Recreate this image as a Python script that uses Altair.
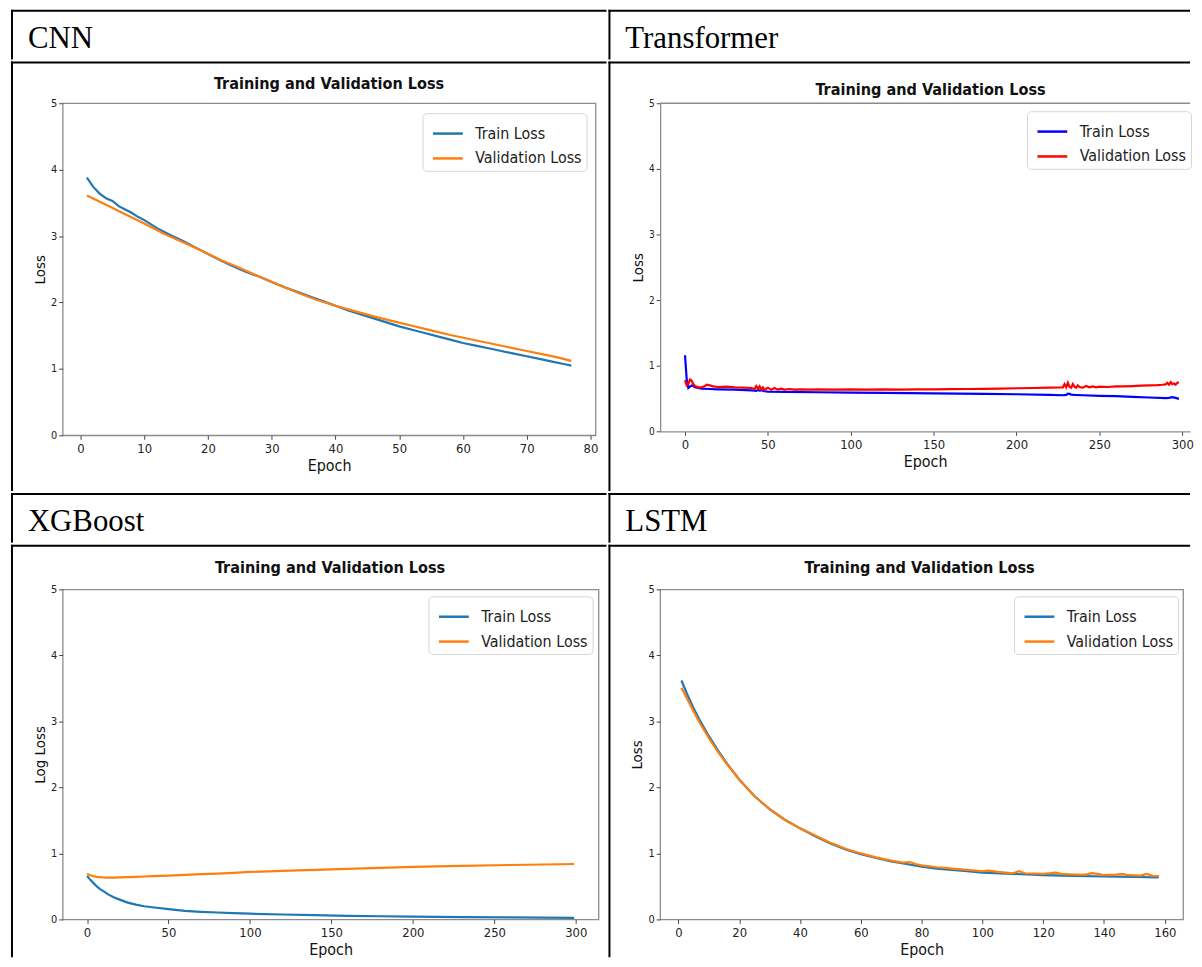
import altair as alt
import pandas as pd

HEADERS = ["CNN", "Transformer", "XGBoost", "LSTM"]
SERIES = ["Train Loss", "Validation Loss"]
TITLE = "Training and Validation Loss"

# ---------------- CNN ----------------
cnn_train_ep = [1, 2, 3, 4, 5, 6, 7, 8, 9, 10, 12, 14, 16, 18, 20, 22, 24, 26, 28, 30,
                32, 34, 36, 38, 40, 42, 44, 46, 48, 50, 52, 54, 56, 58, 60, 62, 64, 66, 68, 70,
                72, 74, 76, 77]
cnn_train = [3.88, 3.74, 3.64, 3.57, 3.53, 3.45, 3.40, 3.35, 3.29, 3.24, 3.12, 3.02, 2.93, 2.83, 2.73,
             2.63, 2.54, 2.46, 2.39, 2.31, 2.23, 2.16, 2.09, 2.02, 1.95, 1.88, 1.82, 1.76, 1.70, 1.64,
             1.59, 1.54, 1.49, 1.44, 1.39, 1.35, 1.31, 1.27, 1.23, 1.19, 1.15, 1.11, 1.07, 1.05]
cnn_val_ep = [1, 4, 7, 10, 13, 16, 19, 22, 25, 28, 31, 34, 37, 40, 43, 46, 49, 52, 55, 58,
              61, 64, 67, 70, 73, 75, 77]
cnn_val = [3.61, 3.47, 3.33, 3.19, 3.04, 2.91, 2.78, 2.64, 2.52, 2.39, 2.27, 2.15, 2.04, 1.95, 1.87,
           1.79, 1.72, 1.65, 1.58, 1.51, 1.45, 1.39, 1.33, 1.27, 1.21, 1.17, 1.12]
cnn_xticks = [0, 10, 20, 30, 40, 50, 60, 70, 80]

# ---------------- Transformer ----------------
tr_train_ep = [0, 1, 2, 3, 4, 5, 6, 8, 10, 15, 20, 30, 40, 42, 43, 44, 45, 46, 48, 50,
               60, 80, 100, 120, 150, 180, 200, 220, 228, 230, 231, 232, 233, 235, 240,
               250, 260, 270, 280, 290, 292, 294, 296, 298]
tr_train = [1.16, 0.80, 0.66, 0.68, 0.70, 0.69, 0.67, 0.66, 0.65, 0.645, 0.64, 0.635, 0.625, 0.62,
            0.615, 0.63, 0.62, 0.625, 0.61, 0.605, 0.60, 0.595, 0.59, 0.585, 0.578, 0.57, 0.565,
            0.555, 0.55, 0.555, 0.575, 0.57, 0.56, 0.555, 0.55, 0.54, 0.535, 0.525, 0.515, 0.505,
            0.51, 0.52, 0.51, 0.495]
tr_val_ep = [0, 1, 2, 3, 4, 5, 6, 8, 10, 12, 13, 15, 17, 20, 25, 30, 35, 40, 42, 43,
             44, 45, 46, 47, 48, 50, 52, 54, 56, 58, 60, 63, 66, 70, 75, 80, 90, 100, 110, 120,
             130, 140, 150, 160, 170, 180, 190, 200, 210, 220, 226, 228, 229, 230, 231, 232, 233,
             234, 235, 236, 237, 238, 240, 242, 244, 246, 248, 250, 255, 260, 265, 270, 275, 280,
             285, 288, 290, 291, 292, 293, 294, 295, 296, 297, 298]
tr_val = [0.78, 0.70, 0.72, 0.79, 0.77, 0.72, 0.69, 0.67, 0.67, 0.69, 0.71, 0.70, 0.685, 0.675,
          0.68, 0.67, 0.665, 0.66, 0.645, 0.69, 0.65, 0.685, 0.64, 0.67, 0.63, 0.665, 0.635, 0.66,
          0.635, 0.65, 0.635, 0.645, 0.635, 0.64, 0.635, 0.64, 0.635, 0.638, 0.635, 0.64, 0.636,
          0.64, 0.64, 0.642, 0.645, 0.648, 0.652, 0.656, 0.66, 0.665, 0.668, 0.67, 0.72, 0.67,
          0.74, 0.68, 0.665, 0.72, 0.68, 0.665, 0.70, 0.675, 0.665, 0.69, 0.67, 0.685, 0.67, 0.68,
          0.675, 0.685, 0.685, 0.69, 0.695, 0.70, 0.705, 0.71, 0.715, 0.74, 0.71, 0.75, 0.72,
          0.73, 0.71, 0.74, 0.745]
tr_xticks = [0, 50, 100, 150, 200, 250, 300]

# ---------------- XGBoost ----------------
xg_ep = [0, 2, 4, 6, 8, 10, 13, 16, 20, 25, 30, 35, 40, 50, 60, 70, 80, 90, 100, 120,
         140, 160, 180, 200, 230, 260, 299]
xg_train = [0.66, 0.60, 0.55, 0.50, 0.46, 0.43, 0.38, 0.34, 0.30, 0.255, 0.225, 0.20, 0.185,
            0.155, 0.13, 0.115, 0.105, 0.095, 0.087, 0.075, 0.064, 0.055, 0.048, 0.042, 0.035,
            0.03, 0.025]
xg_val = [0.69, 0.67, 0.655, 0.645, 0.64, 0.635, 0.632, 0.632, 0.636, 0.64, 0.645, 0.65, 0.655,
          0.665, 0.675, 0.685, 0.695, 0.705, 0.72, 0.735, 0.75, 0.765, 0.78, 0.795, 0.81, 0.825,
          0.84]
xg_xticks = [0, 50, 100, 150, 200, 250, 300]

# ---------------- LSTM ----------------
ls_train_ep = [1, 3, 5, 7, 10, 13, 16, 20, 25, 30, 35, 40, 45, 50, 55, 60, 65, 70, 75, 80,
               85, 90, 95, 100, 110, 120, 130, 140, 150, 158]
ls_train = [3.62, 3.40, 3.20, 3.02, 2.78, 2.56, 2.36, 2.12, 1.87, 1.67, 1.51, 1.38, 1.26, 1.15,
            1.06, 0.99, 0.93, 0.88, 0.84, 0.80, 0.77, 0.75, 0.73, 0.71, 0.69, 0.67, 0.66, 0.65,
            0.645, 0.635]
ls_val_ep = [1, 3, 5, 7, 10, 13, 16, 20, 25, 30, 35, 40, 45, 50, 55, 60, 65, 70, 74, 76,
             78, 80, 85, 88, 90, 95, 100, 102, 105, 110, 112, 114, 120, 122, 124, 126, 130, 134,
             136, 138, 140, 144, 146, 148, 152, 154, 156, 158]
ls_val = [3.51, 3.33, 3.15, 2.98, 2.75, 2.54, 2.35, 2.12, 1.87, 1.67, 1.51, 1.38, 1.27, 1.16,
          1.07, 1.00, 0.94, 0.89, 0.86, 0.87, 0.84, 0.82, 0.79, 0.78, 0.77, 0.75, 0.73, 0.74,
          0.72, 0.70, 0.73, 0.70, 0.69, 0.70, 0.71, 0.69, 0.68, 0.68, 0.70, 0.69, 0.67, 0.68,
          0.69, 0.67, 0.665, 0.69, 0.66, 0.655]
ls_xticks = [0, 20, 40, 60, 80, 100, 120, 140, 160]

Y_TICKS = [0, 1, 2, 3, 4, 5]

SANS = "DejaVu Sans Condensed, DejaVu Sans"
SERIF = "Liberation Serif, Times New Roman, serif"
MPL_COLORS = ["#1f77b4", "#ff7f0e"]
TR_COLORS = ["#0000ff", "#ff0000"]
FRAME = "#8c8c8c"


def long_df(ep_t, v_t, ep_v, v_v):
    return pd.DataFrame({
        "Epoch": list(ep_t) + list(ep_v),
        "Loss": list(v_t) + list(v_v),
        "Series": [SERIES[0]] * len(ep_t) + [SERIES[1]] * len(ep_v),
    })


ONE = pd.DataFrame({"k": [0]})


def cell_decor(cell, origin):
    """Invisible cell box (defines the cell extent) plus its top and left table lines."""
    cx0, cy0, cx1, cy1 = cell
    ox, oy = origin
    x0, x1, y0, y1 = cx0 - ox, cx1 - ox, cy0 - oy, cy1 - oy
    box = alt.Chart(ONE).mark_rect(fill="white", opacity=0).encode(
        x=alt.value(x0), x2=alt.value(x1), y=alt.value(y0), y2=alt.value(y1))
    top = alt.Chart(ONE).mark_rect(fill="black").encode(
        x=alt.value(x0), x2=alt.value(x1), y=alt.value(y0), y2=alt.value(y0 + 2))
    left = alt.Chart(ONE).mark_rect(fill="black").encode(
        x=alt.value(x0), x2=alt.value(x0 + 2), y=alt.value(y0), y2=alt.value(y1))
    return [box, top, left]


def chart_cell(df, colors, xdom, xticks, ytitle, cell, plot, title_pos, legend_pos,
               ylab_size=11, open_right=False):
    px0, py0, px1, py1 = plot
    W, H = px1 - px0, py1 - py0
    layers = cell_decor(cell, (px0, py0))

    title = alt.Chart(pd.DataFrame({"t": [TITLE]})).mark_text(
        font=SANS, fontSize=16.2, fontWeight="bold", color="#111",
        align="center", baseline="alphabetic").encode(
        x=alt.value(title_pos[0] - px0), y=alt.value(title_pos[1] - py0), text="t:N")
    layers.append(title)

    if open_right:
        layers.append(alt.Chart(ONE).mark_rule(color=FRAME, strokeWidth=1.3).encode(
            x=alt.value(0), x2=alt.value(W), y=alt.value(0)))

    lines = alt.Chart(df).mark_line(strokeWidth=2.2).encode(
        x=alt.X("Epoch:Q",
                scale=alt.Scale(domain=xdom, nice=False, zero=False),
                axis=alt.Axis(values=xticks, title="Epoch", grid=False,
                              domain=open_right, domainColor=FRAME, domainWidth=1.3,
                              tickSize=4, tickColor="#444", tickWidth=1,
                              labelFont=SANS, labelFontSize=13, labelColor="#222",
                              labelPadding=3, labelFlush=False, labelOverlap=False,
                              titleFont=SANS, titleFontSize=16, titleFontWeight="normal",
                              titleColor="#111", titlePadding=2)),
        y=alt.Y("Loss:Q",
                scale=alt.Scale(domain=[0, 5], nice=False, zero=False),
                axis=alt.Axis(values=Y_TICKS, format="d", title=ytitle, grid=False,
                              domain=open_right, domainColor=FRAME, domainWidth=1.3,
                              tickSize=4, tickColor="#444", tickWidth=1,
                              labelFont=SANS, labelFontSize=ylab_size, labelColor="#222",
                              labelPadding=2, labelFlush=False,
                              titleFont=SANS, titleFontSize=15, titleFontWeight="normal",
                              titleColor="#111", titlePadding=3)),
        color=alt.Color("Series:N",
                        scale=alt.Scale(domain=SERIES, range=colors),
                        legend=alt.Legend(title=None, orient="none",
                                          legendX=legend_pos[0] - px0,
                                          legendY=legend_pos[1] - py0,
                                          symbolType="stroke", symbolSize=900,
                                          symbolStrokeWidth=2.5, symbolOffset=5,
                                          labelFont=SANS, labelFontSize=16,
                                          labelColor="#222", labelOffset=11,
                                          rowPadding=0, padding=4,
                                          strokeColor="#d6d6d6", fillColor="white",
                                          cornerRadius=4, labelLimit=300)),
    )
    layers.append(lines)

    frame = alt.ViewBackground(stroke="transparent") if open_right else \
        alt.ViewBackground(stroke=FRAME, strokeWidth=1.3)
    return alt.layer(*layers).properties(width=W, height=H, view=frame)


def header_cell(text, cell, origin_x):
    cx0, cy0, cx1, cy1 = cell
    layers = cell_decor(cell, (origin_x, cy0))
    txt = alt.Chart(pd.DataFrame({"label": [text]})).mark_text(
        font=SERIF, fontSize=31, align="left", baseline="alphabetic", color="black").encode(
        x=alt.value(cx0 + 17 - origin_x), y=alt.value(38), text="label:N")
    layers.append(txt)
    return alt.layer(*layers).properties(
        width=10, height=10, view=alt.ViewBackground(stroke="transparent"))


# page geometry (pixels): table cells and plot frames
C0, C1 = 62, 661          # plot-left of each column
RIGHT = 1194              # right edge of the table (kept inside the window)
cnn = chart_cell(long_df(cnn_train_ep, cnn_train, cnn_val_ep, cnn_val), MPL_COLORS,
                 [-2.8, 80.8], cnn_xticks, "Loss",
                 (10, 60, 609, 492), (C0, 102, 598, 436), (330, 88), (424, 112))
trf = chart_cell(long_df(tr_train_ep, tr_train, tr_val_ep, tr_val), TR_COLORS,
                 [-15.0, 304.7], tr_xticks, "Loss",
                 (609, 60, RIGHT, 492), (C1, 102, RIGHT, 432), (933, 94), (1030, 110),
                 ylab_size=10, open_right=True)
xgb = chart_cell(long_df(xg_ep, xg_train, xg_ep, xg_val), MPL_COLORS,
                 [-14.95, 313.95], xg_xticks, "Log Loss",
                 (10, 542, 609, 957), (C0, 587, 601, 919), (331, 571), (430, 594))
lstm = chart_cell(long_df(ls_train_ep, ls_train, ls_val_ep, ls_val), MPL_COLORS,
                  [-6.0, 166.0], ls_xticks, "Loss",
                  (609, 542, RIGHT, 957), (C1, 587, 1187, 919), (922, 571), (1017, 594))

cells = [
    header_cell(HEADERS[0], (10, 10, 609, 60), C0),
    header_cell(HEADERS[1], (609, 10, RIGHT, 60), C1),
    cnn, trf,
    header_cell(HEADERS[2], (10, 492, 609, 542), C0),
    header_cell(HEADERS[3], (609, 492, RIGHT, 542), C1),
    xgb, lstm,
]

chart = alt.concat(*cells, columns=2, spacing=0, align="each").resolve_scale(
    color="independent", x="independent", y="independent"
).resolve_legend(color="independent").properties(
    padding={"left": 2, "top": -2, "right": 0, "bottom": 0}
).configure(background="white")

chart.save("out.html", embed_options={"renderer": "svg", "actions": False})
